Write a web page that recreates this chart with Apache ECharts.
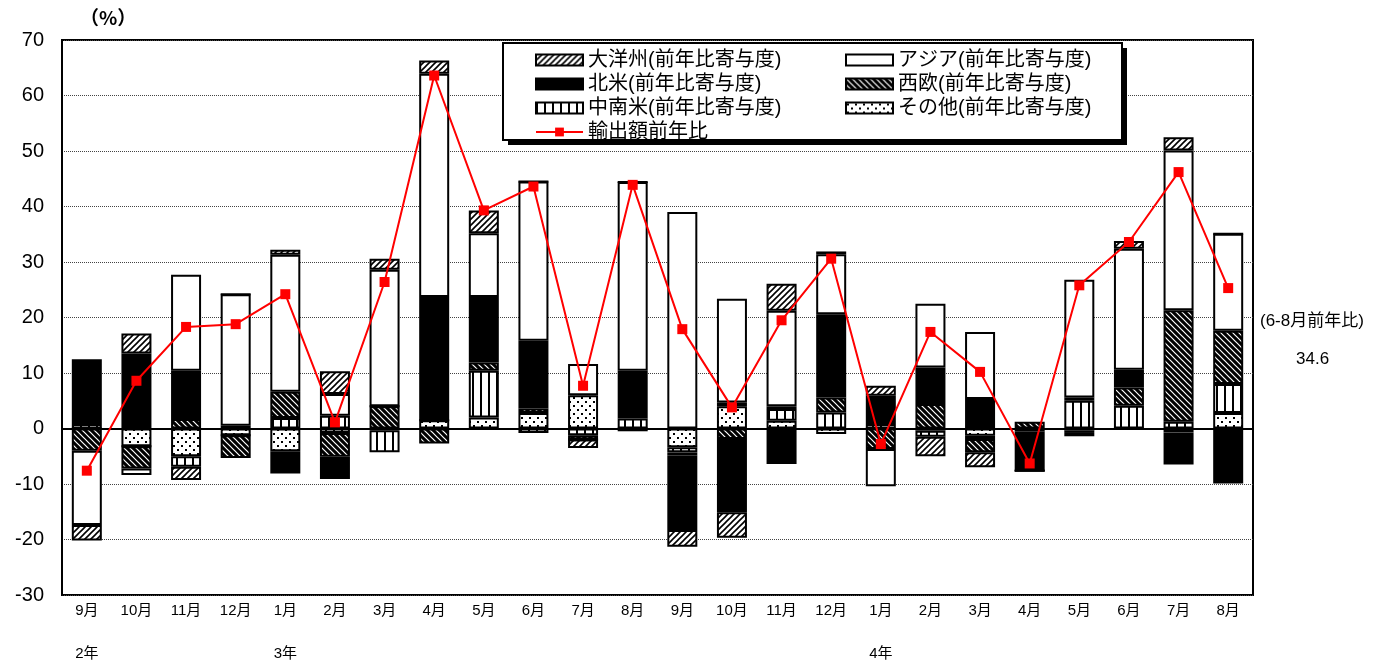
<!DOCTYPE html>
<html>
<head>
<meta charset="utf-8">
<script src="https://cdn.jsdelivr.net/npm/echarts@6/dist/echarts.min.js"></script>
<style>
  html, body { margin: 0; padding: 0; background: #fff; }
  #chart { width: 1387px; height: 666px; }
</style>
</head>
<body>
<div id="chart"></div>
<script>
// 月
const categories = ['9月', '10月', '11月', '12月', '1月', '2月', '3月', '4月', '5月', '6月', '7月', '8月',
  '9月', '10月', '11月', '12月', '1月', '2月', '3月', '4月', '5月', '6月', '7月', '8月']
const yearLabels = ['2年', '', '', '', '3年', '', '', '', '', '', '', '', '', '', '', '', '4年', '', '', '', '', '', '', '']

// 前年比寄与度（%）
const sonota = [0, -3.2, -5.0, -1.2, -4.1, -0.8, -0.3, 1.5, 2.0, 2.8, 6.0, 0,
  -3.4, 4.0, 1.4, -1.0, 0, -0.4, -1.3, -0.5, -0.4, 0, -0.7, 2.8]
const chunanbei = [0.8, 0, -1.9, 0, 1.9, 2.3, -4.0, 0, 8.4, -0.8, -1.2, 1.8,
  -0.9, 0.7, 2.1, 2.9, 0.8, -1.1, -0.6, -0.5, 5.0, 4.1, 1.2, 5.2]
const seio = [-4.0, -4.0, 1.7, -4.1, 4.7, -4.3, 4.0, -2.7, 1.5, 0.8, -0.8, -0.5,
  -0.6, -1.9, 0.5, 2.7, -3.7, 4.4, -2.4, 1.2, -0.4, 3.3, 20.1, 9.6]
const hokubei = [11.7, 13.5, 8.7, 0.5, -4.0, -4.0, 0, 22.2, 11.8, 12.2, 0, 8.6,
  -13.4, -13.2, -6.4, 15.0, 5.1, 6.6, 5.3, -6.6, 0.6, 3.2, -5.8, -9.9]
const ajia = [-13.4, -1.2, 17.3, 23.7, 24.7, 3.9, 24.6, 40.2, 11.5, 28.7, 5.6, 34.0,
  39.0, 18.7, 17.2, 10.8, -6.7, 11.5, 12.1, 0, 21.2, 21.8, 28.8, 17.5]
const taiyoshu = [-2.8, 3.6, -2.4, 0, 0.9, 4.1, 2.0, 2.4, 4.1, 0, -1.5, 0,
  -3.0, -4.6, 4.9, 0.5, 1.8, -3.5, -2.7, 0, -0.6, 1.4, 2.4, 0]
// 輸出額前年比（%）
const yoy = [-7.6, 8.6, 18.3, 18.8, 24.2, 1.1, 26.4, 63.6, 39.3, 43.6, 7.7, 43.9,
  17.9, 3.8, 19.5, 30.6, -2.8, 17.4, 10.2, -6.3, 25.8, 33.6, 46.2, 25.3]

const FONT = '"Liberation Sans", "Noto Sans CJK JP", sans-serif'

// 塗りつぶしパターン
function makePattern(kind) {
  const c = document.createElement('canvas')
  const ctx = c.getContext('2d')
  if (kind === 'slash') {
    c.width = 6; c.height = 6
    ctx.fillStyle = '#fff'; ctx.fillRect(0, 0, 6, 6)
    ctx.strokeStyle = '#000'; ctx.lineWidth = 1.6
    ctx.beginPath()
    ctx.moveTo(-1, 7); ctx.lineTo(7, -1)
    ctx.moveTo(-4, 4); ctx.lineTo(4, -4)
    ctx.moveTo(2, 10); ctx.lineTo(10, 2)
    ctx.stroke()
  } else if (kind === 'back') {
    c.width = 6; c.height = 6
    ctx.fillStyle = '#000'; ctx.fillRect(0, 0, 6, 6)
    ctx.strokeStyle = '#fff'; ctx.lineWidth = 1.2
    ctx.beginPath()
    ctx.moveTo(-1, -1); ctx.lineTo(7, 7)
    ctx.moveTo(-4, 2); ctx.lineTo(4, 10)
    ctx.moveTo(2, -4); ctx.lineTo(10, 4)
    ctx.stroke()
  } else if (kind === 'vert') {
    c.width = 8; c.height = 4
    ctx.fillStyle = '#fff'; ctx.fillRect(0, 0, 8, 4)
    ctx.fillStyle = '#000'; ctx.fillRect(0, 0, 2, 4)
  } else {
    c.width = 8; c.height = 8
    ctx.fillStyle = '#fff'; ctx.fillRect(0, 0, 8, 8)
    ctx.fillStyle = '#000'
    ctx.fillRect(1, 1, 2, 2)
    ctx.fillRect(5, 5, 2, 2)
  }
  return { image: c, repeat: 'repeat' }
}

function barSeries(name, data, color) {
  return {
    name: name,
    type: 'bar',
    stack: 'total',
    barWidth: 30,
    data: data,
    itemStyle: { color: color, borderColor: '#000', borderWidth: 2 }
  }
}

const legendText = { fontSize: 20, lineHeight: 20, color: '#000', fontFamily: FONT }

const chart = echarts.init(document.getElementById('chart'))
chart.setOption({
  backgroundColor: '#fff',
  animation: false,
  textStyle: { fontFamily: FONT },
  grid: {
    left: 62, right: 134, top: 40, bottom: 71,
    show: true, borderColor: '#000', borderWidth: 2
  },
  graphic: [
    { type: 'rect', z: 3, shape: { x: 508, y: 48, width: 619, height: 97 }, style: { fill: '#000' } },
    { type: 'rect', z: 3, shape: { x: 503, y: 43, width: 619, height: 97 }, style: { fill: '#fff', stroke: '#000', lineWidth: 2 } },
    { type: 'text', z: 5, left: 80, top: 8, style: { text: '（%）', font: 'bold 19px "Noto Sans CJK JP"', fill: '#000' } },
    { type: 'text', z: 5, left: 1260, top: 313, style: { text: '(6-8月前年比)', font: '17px ' + FONT, fill: '#000' } },
    { type: 'text', z: 5, left: 1296, top: 351, style: { text: '34.6', font: '17px ' + FONT, fill: '#000' } }
  ],
  legend: [
    {
      z: 4, left: 530, top: 45, orient: 'vertical',
      itemWidth: 47, itemHeight: 11, itemGap: 4,
      textStyle: legendText,
      data: [
        { name: '大洋州(前年比寄与度)', icon: 'rect' },
        { name: '北米(前年比寄与度)', icon: 'rect' },
        { name: '中南米(前年比寄与度)', icon: 'rect' },
        { name: '輸出額前年比' }
      ]
    },
    {
      z: 4, left: 840, top: 45, orient: 'vertical',
      itemWidth: 47, itemHeight: 11, itemGap: 4,
      textStyle: legendText,
      data: [
        { name: 'アジア(前年比寄与度)', icon: 'rect' },
        { name: '西欧(前年比寄与度)', icon: 'rect' },
        { name: 'その他(前年比寄与度)', icon: 'rect' }
      ]
    }
  ],
  xAxis: [
    {
      type: 'category',
      data: categories,
      axisLine: { show: true, lineStyle: { color: '#000', width: 2 } },
      axisTick: { show: false },
      axisLabel: { interval: 0, margin: 8, fontSize: 15, color: '#000', fontFamily: FONT }
    },
    {
      type: 'category',
      position: 'bottom',
      offset: 43,
      data: categories,
      axisLine: { show: false },
      axisTick: { show: false },
      axisLabel: {
        interval: 0, margin: 8, fontSize: 15, color: '#000', fontFamily: FONT,
        formatter: function(value, index) { return yearLabels[index] }
      }
    }
  ],
  yAxis: {
    type: 'value',
    min: -30,
    max: 70,
    interval: 10,
    axisLine: { show: true, lineStyle: { color: '#000', width: 2 } },
    axisTick: { show: false },
    axisLabel: { margin: 18, fontSize: 20, color: '#000', fontFamily: FONT },
    splitLine: { show: true, lineStyle: { type: 'dotted', color: '#444', width: 1 } }
  },
  series: [
    barSeries('その他(前年比寄与度)', sonota, makePattern('dots')),
    barSeries('中南米(前年比寄与度)', chunanbei, makePattern('vert')),
    barSeries('西欧(前年比寄与度)', seio, makePattern('back')),
    barSeries('北米(前年比寄与度)', hokubei, '#000'),
    barSeries('アジア(前年比寄与度)', ajia, '#fff'),
    barSeries('大洋州(前年比寄与度)', taiyoshu, makePattern('slash')),
    {
      name: '輸出額前年比',
      type: 'line',
      data: yoy,
      z: 10,
      symbol: 'rect',
      symbolSize: 10,
      itemStyle: { color: '#ff0000' },
      lineStyle: { color: '#ff0000', width: 2 }
    }
  ]
})
</script>
</body>
</html>
